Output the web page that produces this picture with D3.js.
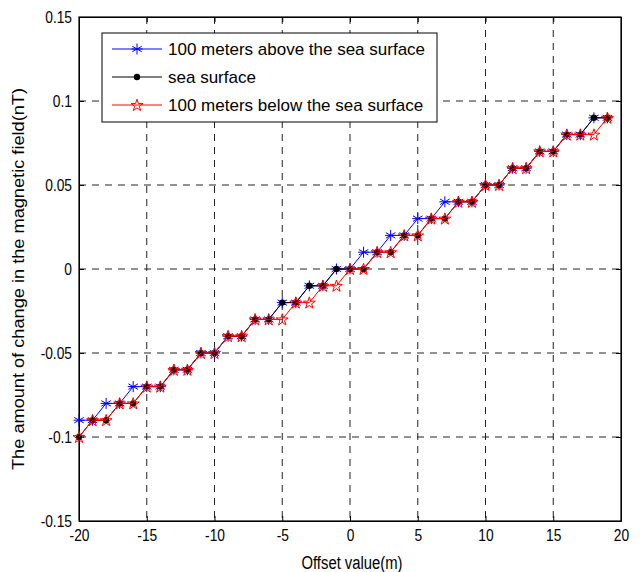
<!DOCTYPE html>
<html>
<head>
<meta charset="utf-8">
<script src="https://cdn.jsdelivr.net/npm/d3@7"></script>
<style>
  body { margin: 0; background: #fff; }
  text { font-family: "Liberation Sans", Arial, sans-serif; }
</style>
</head>
<body>
<svg id="chart"></svg>
<script>
// offsets (m)
const offsets = d3.range(-20, 20);

// values (nT)
const above = [-0.09, -0.09, -0.08, -0.08, -0.07, -0.07, -0.07, -0.06, -0.06, -0.05,
               -0.05, -0.04, -0.04, -0.03, -0.03, -0.02, -0.02, -0.01, -0.01, 0,
               0, 0.01, 0.01, 0.02, 0.02, 0.03, 0.03, 0.04, 0.04, 0.04,
               0.05, 0.05, 0.06, 0.06, 0.07, 0.07, 0.08, 0.08, 0.09, 0.09];
const surface = [-0.10, -0.09, -0.09, -0.08, -0.08, -0.07, -0.07, -0.06, -0.06, -0.05,
                 -0.05, -0.04, -0.04, -0.03, -0.03, -0.02, -0.02, -0.01, -0.01, 0,
                 0, 0, 0.01, 0.01, 0.02, 0.02, 0.03, 0.03, 0.04, 0.04,
                 0.05, 0.05, 0.06, 0.06, 0.07, 0.07, 0.08, 0.08, 0.09, 0.09];
const below = [-0.10, -0.09, -0.09, -0.08, -0.08, -0.07, -0.07, -0.06, -0.06, -0.05,
               -0.05, -0.04, -0.04, -0.03, -0.03, -0.03, -0.02, -0.02, -0.01, -0.01,
               0, 0, 0.01, 0.01, 0.02, 0.02, 0.03, 0.03, 0.04, 0.04,
               0.05, 0.05, 0.06, 0.06, 0.07, 0.07, 0.08, 0.08, 0.08, 0.09];

const xTicks = [-20, -15, -10, -5, 0, 5, 10, 15, 20];
const yTicks = [-0.15, -0.1, -0.05, 0, 0.05, 0.1, 0.15];
const seriesNames = ["100 meters above the sea surface", "sea surface", "100 meters below the sea surface"];

const width = 644, height = 572;
const margin = {top: 17, bottom: 51, left: 79, right: 23};

const svg = d3.select("#chart")
  .attr("width", width)
  .attr("height", height);

const x = d3.scaleLinear().domain([-20, 20]).range([margin.left, width - margin.right]);
const y = d3.scaleLinear().domain([-0.15, 0.15]).range([height - margin.bottom, margin.top]);

// squeeze text horizontally like the original figure
function squeeze(sel, k) {
  sel.each(function() {
    const len = this.getComputedTextLength();
    d3.select(this).attr("textLength", len * k).attr("lengthAdjust", "spacingAndGlyphs");
  });
}

// grid lines
svg.append("g")
  .selectAll("line")
  .data(xTicks.slice(1, -1))
  .enter().append("line")
  .attr("x1", d => x(d)).attr("x2", d => x(d))
  .attr("y1", y(0.15)).attr("y2", y(-0.15))
  .attr("stroke", "#222").attr("stroke-width", 1)
  .attr("stroke-dasharray", "7,6");

svg.append("g")
  .selectAll("line")
  .data(yTicks.slice(1, -1))
  .enter().append("line")
  .attr("y1", d => y(d)).attr("y2", d => y(d))
  .attr("x1", x(-20)).attr("x2", x(20))
  .attr("stroke", "#222").attr("stroke-width", 1)
  .attr("stroke-dasharray", "7,6");

// axes with inward ticks
const xAxis = svg.append("g")
  .attr("transform", `translate(0,${y(-0.15)})`)
  .call(d3.axisBottom(x).tickValues(xTicks).tickFormat(d => String(d))
    .tickSizeInner(-5).tickSizeOuter(0).tickPadding(9));
const yAxis = svg.append("g")
  .attr("transform", `translate(${x(-20)},0)`)
  .call(d3.axisLeft(y).tickValues(yTicks).tickFormat(d => String(d))
    .tickSizeInner(-5).tickSizeOuter(0).tickPadding(7));
svg.append("g")
  .attr("transform", `translate(0,${y(0.15)})`)
  .call(d3.axisTop(x).tickValues(xTicks).tickSizeInner(-5).tickSizeOuter(0).tickFormat(""));
svg.append("g")
  .attr("transform", `translate(${x(20)},0)`)
  .call(d3.axisRight(y).tickValues(yTicks).tickSizeInner(-5).tickSizeOuter(0).tickFormat(""));

svg.selectAll(".domain").attr("stroke", "#000");
svg.selectAll(".tick line").attr("stroke", "#000");
[xAxis, yAxis].forEach(a => {
  a.selectAll("text")
    .attr("font-size", 16).attr("fill", "#000")
    .attr("font-family", "'Liberation Sans', Arial, sans-serif");
  squeeze(a.selectAll("text"), 0.86);
});

// box
svg.append("rect")
  .attr("x", x(-20)).attr("y", y(0.15))
  .attr("width", x(20) - x(-20)).attr("height", y(-0.15) - y(0.15))
  .attr("fill", "none").attr("stroke", "#000").attr("stroke-width", 1.2);

// axis titles
svg.append("text")
  .attr("x", 352).attr("y", 569)
  .attr("text-anchor", "middle").attr("font-size", 18)
  .attr("textLength", 101).attr("lengthAdjust", "spacingAndGlyphs")
  .text("Offset value(m)");
svg.append("text")
  .attr("transform", `translate(24,279) rotate(-90)`)
  .attr("text-anchor", "middle").attr("font-size", 16)
  .attr("textLength", 382).attr("lengthAdjust", "spacingAndGlyphs")
  .text("The amount of change in the magnetic field(nT)");

// markers
const star5 = d3.symbol().type(d3.symbolStar).size(44);
function asterisk(g, cx, cy, color) {
  const r = 5.5;
  [0, 60, 120].forEach(a => {
    const rad = a * Math.PI / 180;
    g.append("line")
      .attr("x1", cx - r * Math.sin(rad)).attr("y1", cy - r * Math.cos(rad))
      .attr("x2", cx + r * Math.sin(rad)).attr("y2", cy + r * Math.cos(rad))
      .attr("stroke", color).attr("stroke-width", 1);
  });
  g.append("line").attr("x1", cx - r).attr("x2", cx + r).attr("y1", cy).attr("y2", cy)
    .attr("stroke", color).attr("stroke-width", 1);
}

const line = d3.line().x(d => x(d[0])).y(d => y(d[1]));

const series = [
  {name: seriesNames[0], values: above, color: "#0000ff"},
  {name: seriesNames[1], values: surface, color: "#000000"},
  {name: seriesNames[2], values: below, color: "#ff0000"}
];

series.forEach((s, i) => {
  const pts = offsets.map((o, k) => [o, s.values[k]]);
  const g = svg.append("g");
  g.append("path")
    .attr("d", line(pts))
    .attr("fill", "none").attr("stroke", s.color).attr("stroke-width", 1);
  pts.forEach(p => {
    if (i === 0) asterisk(g, x(p[0]), y(p[1]), s.color);
    else if (i === 1) g.append("circle").attr("cx", x(p[0])).attr("cy", y(p[1])).attr("r", 3.2).attr("fill", "#000");
    else g.append("path").attr("d", star5).attr("transform", `translate(${x(p[0])},${y(p[1]) + 0.5})`)
      .attr("fill", "none").attr("stroke", s.color).attr("stroke-width", 1);
  });
});

// legend
const lg = svg.append("g");
lg.append("rect")
  .attr("x", 102).attr("y", 33).attr("width", 335).attr("height", 89)
  .attr("fill", "#fff").attr("stroke", "#000").attr("stroke-width", 1);
series.forEach((s, i) => {
  const ly = 49 + i * 28;
  lg.append("line").attr("x1", 112).attr("x2", 162).attr("y1", ly).attr("y2", ly)
    .attr("stroke", s.color).attr("stroke-width", 1);
  if (i === 0) asterisk(lg, 137, ly, s.color);
  else if (i === 1) lg.append("circle").attr("cx", 137).attr("cy", ly).attr("r", 3.2).attr("fill", "#000");
  else lg.append("path").attr("d", star5).attr("transform", `translate(137,${ly + 0.5})`)
    .attr("fill", "none").attr("stroke", s.color).attr("stroke-width", 1);
  lg.append("text").attr("x", 168).attr("y", ly + 6).attr("font-size", 17).text(s.name);
});
</script>
</body>
</html>
